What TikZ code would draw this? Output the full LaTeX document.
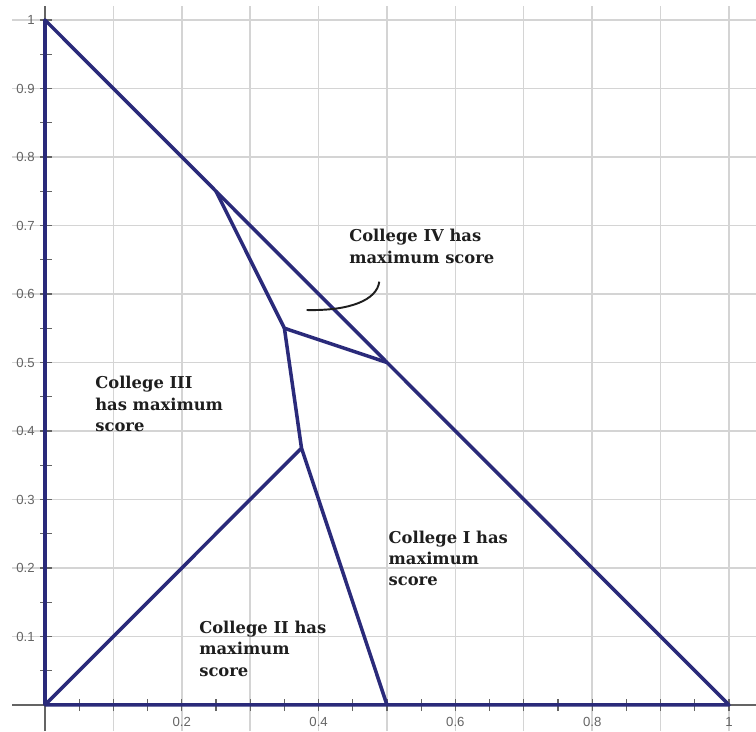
\documentclass[tikz,border=0pt]{standalone}
\usepackage{fontspec}
\setmainfont{DejaVu Serif}
\newfontfamily\axisfont{Liberation Sans}
\definecolor{regionblue}{RGB}{42,42,122}
\definecolor{gridgrey}{RGB}{212,212,212}
\definecolor{axisgrey}{RGB}{100,100,100}
\definecolor{textgrey}{RGB}{30,30,30}

\begin{document}
\begin{tikzpicture}[x=13.68cm,y=13.70cm,
  region/.style={regionblue,line width=2pt,line join=round},
  regionlabel/.style={anchor=base west,inner sep=0pt,align=left,textgrey,
    font=\bfseries\fontsize{9.3}{12.2}\selectfont},
  axislabel/.style={inner sep=0pt,axisgrey,font=\axisfont\fontsize{7.5}{8}\selectfont}]
\useasboundingbox (-0.0658,-0.038) rectangle (1.0395,1.0292);
% grid
\foreach \k in {1,...,10} {
  \draw[gridgrey,line width=0.8pt] (\k/10,-0.038) -- (\k/10,1.0204);
  \draw[gridgrey,line width=0.8pt] (-0.048,\k/10) -- (1.0395,\k/10);
}
% axes and ticks
\draw[axisgrey,line width=0.6pt] (-0.048,0) -- (1.0395,0);
\draw[axisgrey,line width=0.6pt] (0,-0.038) -- (0,1.0204);
\foreach \k in {1,...,20} {
  \draw[axisgrey,line width=0.6pt] (\k/20,-0.009) -- (\k/20,0.009);
  \draw[axisgrey,line width=0.6pt] (-0.007,\k/20) -- (0.010,\k/20);
}
\foreach \v in {0.2,0.4,0.6,0.8,1}
  \node[axislabel] at (\v,-0.0248) {\v};
\foreach \v in {0.1,0.2,0.3,0.4,0.5,0.6,0.7,0.8,0.9,1}
  \node[axislabel,anchor=east] at (-0.0146,\v) {\v};
% corners of the regions
\coordinate (O) at (0,0);
\coordinate (R) at (1,0);
\coordinate (T) at (0,1);
\coordinate (B) at (0.25,0.75);
\coordinate (C) at (0.35,0.55);
\coordinate (D) at (0.5,0.5);
\coordinate (E) at (0.375,0.375);
\coordinate (F) at (0.5,0);
\draw[region] (O) -- (R) -- (T) -- cycle;
\draw[region] (B) -- (C) -- (D);
\draw[region] (C) -- (E) -- (O);
\draw[region] (E) -- (F);
% labels (base = last line)
\node[regionlabel] (collegeIV) at (0.4444,0.645) {College IV has\\maximum score};
\node[regionlabel] (collegeIII) at (0.0731,0.3988) {College III\\has maximum\\score};
\node[regionlabel] (collegeII) at (0.2251,0.0423) {College II has\\maximum\\score};
\node[regionlabel] (collegeI) at (0.5019,0.1737) {College I has\\maximum\\score};
\coordinate (leaderfoot) at (0.3826,0.5766);
\coordinate (leadertop) at (0.4887,0.6180);
\draw[textgrey,line width=1.1pt] (leaderfoot) .. controls (0.4459,0.5752) and (0.4854,0.5912) .. (leadertop);
\end{tikzpicture}
\end{document}
